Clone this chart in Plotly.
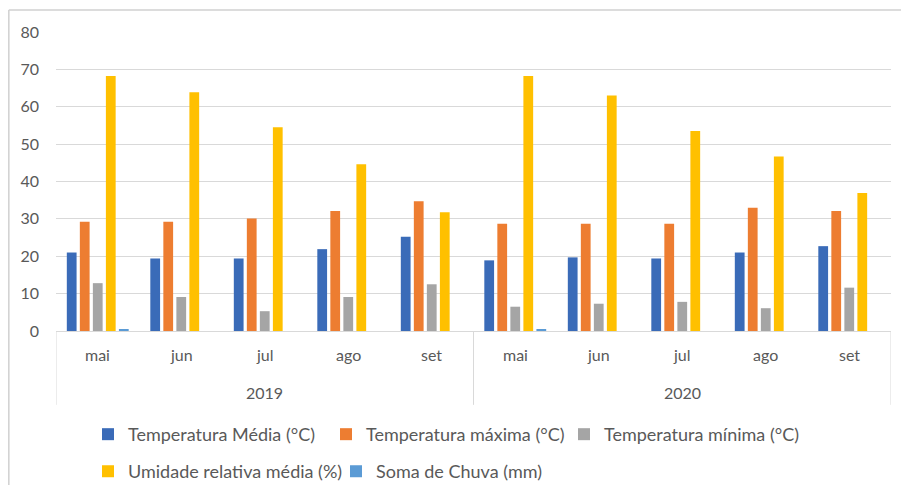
import plotly.graph_objects as go

year_labels = ["2019", "2020"]
month_labels = ["mai", "jun", "jul", "ago", "set"]
categories = [f"{m} {y}" for y in year_labels for m in month_labels]

temp_media = [21.0, 19.4, 19.4, 21.9, 25.2, 18.9, 19.7, 19.4, 21.0, 22.7]
temp_max = [29.2, 29.2, 30.1, 32.1, 34.7, 28.7, 28.7, 28.7, 33.0, 32.1]
temp_min = [12.8, 9.1, 5.3, 9.1, 12.5, 6.5, 7.3, 7.8, 6.1, 11.6]
umidade = [68.2, 63.9, 54.5, 44.6, 31.8, 68.2, 63.0, 53.5, 46.7, 36.9]
chuva = [0.5, 0, 0, 0, 0, 0.4, 0, 0, 0, 0]

series = [
    ("Temperatura Média (°C)", temp_media, "#3A6BB8", "legend"),
    ("Temperatura máxima (°C)", temp_max, "#ED7D31", "legend"),
    ("Temperatura mínima (°C)", temp_min, "#A5A5A5", "legend"),
    ("Umidade relativa média (%)", umidade, "#FFC000", "legend2"),
    ("Soma de Chuva (mm)", chuva, "#5B9BD5", "legend2"),
]

fig = go.Figure()
for name, vals, color, lg in series:
    fig.add_trace(go.Bar(x=categories, y=vals, name=name, legend=lg,
                         marker=dict(color=color, line=dict(width=0))))

font = "Lato, Liberation Sans, sans-serif"
txt = "#595959"
line_c = "#D9D9D9"

W, H = 901, 477  # page body adds an 8px offset

annotations = []
n = len(month_labels)
for yi, yl in enumerate(year_labels):
    for mi, ml in enumerate(month_labels):
        annotations.append(dict(x=categories[yi * n + mi], y=-0.080, xref="x", yref="paper",
                                text=ml, showarrow=False, xanchor="center", yanchor="middle",
                                font=dict(size=16, color=txt)))
    annotations.append(dict(x=yi * n + (n - 1) / 2, y=-0.207, xref="x", yref="paper",
                            text=yl, showarrow=False, xanchor="center", yanchor="middle",
                            font=dict(size=16, color=txt)))

shapes = []
for k in range(len(year_labels) + 1):
    shapes.append(dict(type="line", xref="x", yref="paper", x0=k * n - 0.5, x1=k * n - 0.5,
                       y0=0, y1=-0.247, line=dict(color=line_c, width=1)))
shapes += [
    dict(type="line", xref="paper", yref="paper", x0=-0.0565, x1=1.05,
         y0=1.0736, y1=1.0736, line=dict(color="#D0D0D0", width=1.5)),
    dict(type="line", xref="paper", yref="paper", x0=-0.0565, x1=-0.0565,
         y0=1.0736, y1=-0.6, line=dict(color="#D0D0D0", width=1.5)),
]

legend_common = dict(orientation="h", xref="container", yref="container",
                     xanchor="left", yanchor="top", entrywidthmode="pixels",
                     font=dict(size=18, color=txt, family=font),
                     itemwidth=30, bgcolor="rgba(0,0,0,0)")

fig.update_layout(
    width=W, height=H,
    margin=dict(l=48, r=18, t=24, b=154, autoexpand=False),
    paper_bgcolor="white", plot_bgcolor="white",
    barmode="group", bargap=0.22, bargroupgap=0.25,
    font=dict(family=font, size=16, color=txt),
    showlegend=True,
    legend=dict(x=0.0888, y=0.1447, entrywidth=193, **legend_common),
    legend2=dict(x=0.0888, y=0.067, entrywidth=203, **legend_common),
    xaxis=dict(type="category", showline=True, linecolor=line_c, linewidth=1,
               showgrid=False, ticks="", showticklabels=False,
               range=[-0.5, len(categories) - 0.5]),
    yaxis=dict(range=[0, 80], dtick=10, showgrid=True, gridcolor=line_c,
               gridwidth=1, zeroline=False, showline=False, ticks="",
               tickfont=dict(size=16, color=txt), ticklabelstandoff=16),
    annotations=annotations,
    shapes=shapes,
)

fig.write_html("out.html")
